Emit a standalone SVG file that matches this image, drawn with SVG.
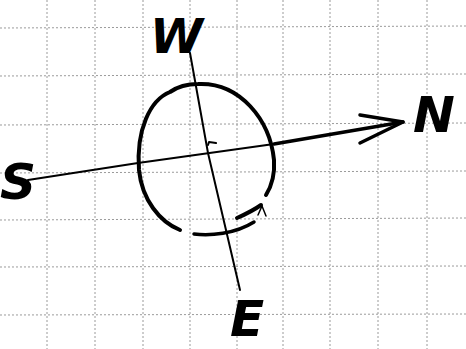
<svg xmlns="http://www.w3.org/2000/svg" width="466" height="349" viewBox="0 0 466 349">
<style>
.grid line{stroke:#9a9a9a;stroke-width:1;stroke-dasharray:2 2}
.ink{fill:none;stroke:#000;stroke-linecap:round;stroke-linejoin:round}
.lbl{font-family:"DejaVu Sans",sans-serif;font-style:italic;font-weight:bold;fill:#000}
</style>
<rect width="466" height="349" fill="#fff"/>
<g class="grid" id="grid">
<line x1="47" y1="0" x2="47" y2="349"/>
<line x1="95" y1="0" x2="95" y2="349"/>
<line x1="143" y1="0" x2="143" y2="349"/>
<line x1="190" y1="0" x2="190" y2="349"/>
<line x1="237" y1="0" x2="237" y2="349"/>
<line x1="283" y1="0" x2="283" y2="349"/>
<line x1="330" y1="0" x2="330" y2="349"/>
<line x1="378" y1="0" x2="378" y2="349"/>
<line x1="427" y1="0" x2="427" y2="349"/>
<line x1="0" y1="28" x2="466" y2="26"/>
<line x1="0" y1="76" x2="466" y2="74"/>
<line x1="0" y1="125" x2="466" y2="123"/>
<line x1="0" y1="173" x2="466" y2="171"/>
<line x1="0" y1="220" x2="466" y2="218"/>
<line x1="0" y1="267" x2="466" y2="266"/>
<line x1="0" y1="315" x2="466" y2="314"/>
</g>
<g id="compass">
<path class="ink" stroke-width="4" d="M180 230 C160 222 142 200 139 170 C136 130 150 100 170 92 C180 85 190 84 198 84 C240 82 270 120 274 160 C275 175 271 187 266 195"/>
<path class="ink" stroke-width="4" d="M237 218 C246 214 254 210 261 205"/>
<path class="ink" stroke-width="3.5" d="M194 234 C210 236 235 234 254 222"/>
<path class="ink" stroke-width="1.5" d="M258 215 L262 206 L266 216"/>
<path class="ink" stroke-width="2" d="M208 145 L209 142 L216 143"/>
</g>
<g id="connectors">
<path class="ink" stroke-width="2" d="M28 180 L138 163 L274 144"/>
<path class="ink" stroke-width="3.5" d="M274 144 L403 122"/>
<path class="ink" stroke-width="3.5" d="M360 115 L403 122 L360 143"/>
<path class="ink" stroke-width="2" d="M190 53 L208 153 L240 290"/>
</g>
<g id="label-W"><text class="lbl" x="150" y="53" font-size="48">W</text></g>
<g id="label-N"><text class="lbl" x="413" y="132" font-size="50">N</text></g>
<g id="label-S"><text class="lbl" x="0" y="199" font-size="50">S</text></g>
<g id="label-E"><text class="lbl" x="230" y="336" font-size="50">E</text></g>
</svg>
